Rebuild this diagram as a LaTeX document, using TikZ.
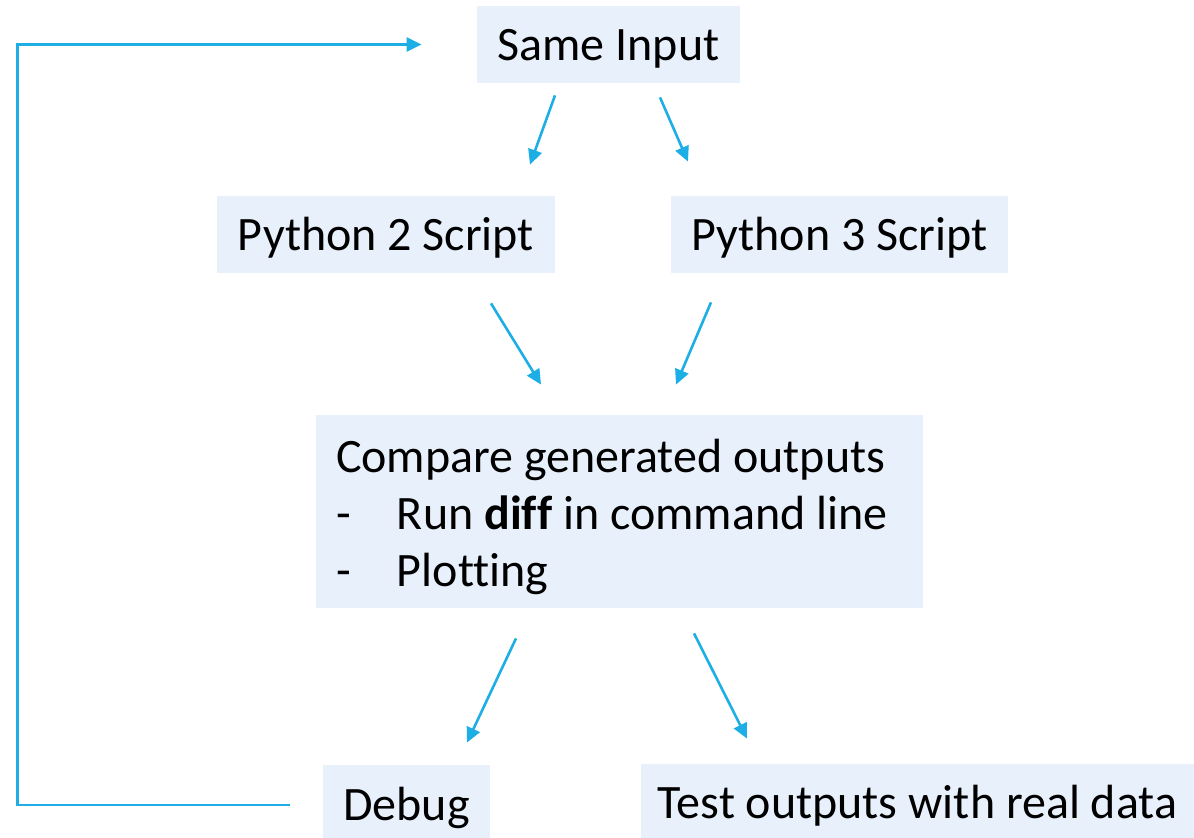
\documentclass[tikz,border=0pt]{standalone}
\usepackage{fontspec}
\setmainfont{Carlito}[Ligatures=NoCommon]
\usetikzlibrary{arrows.meta,calc}
\definecolor{boxfill}{RGB}{232,240,252}
\definecolor{arrowblue}{RGB}{29,174,229}
\tikzset{
  basic/.style  = {fill=boxfill, font=\fontsize{24}{28.5}\selectfont, inner sep=0pt,
                   minimum height=38.5pt, rectangle},
  step box/.style = {basic, align=center, text height=20pt, text depth=4pt},
  list box/.style = {basic, align=flush left, text width=283.5pt, minimum width=303.5pt,
                     minimum height=96.5pt, inner xsep=10pt, inner ysep=2pt},
  flow/.style  = {draw=arrowblue, line width=1.3pt, -{Triangle[length=7.5pt,width=7pt]}}
}
\newcommand{\dashgap}{30.5pt}
\newcommand{\listline}[1]{\mbox{\makebox[\dashgap][l]{-}#1}}

\begin{document}
\begin{tikzpicture}[x=0.5pt, y=-0.5pt]
\useasboundingbox (0,0) rectangle (1194,838);

% top: the shared input
\node[step box, minimum width=131.5pt] (same) at (608.5,44.5) {Same Input};

% the two scripts
\node[step box, minimum width=169pt] (py2) at (386,234.5) {Python 2 Script};
\node[step box, minimum width=168.5pt] (py3) at (839.5,234.5) {Python 3 Script};

% comparison step
\node[list box] (cmp) at (619.5,511.5) {\rule{0pt}{22pt}\mbox{Compare generated outputs}\\
  \listline{Run \textbf{diff} in command line}\\
  \listline{Plotting}};

% outcomes
\node[step box, minimum width=83.5pt] (dbg) at (406.5,804) {Debug};
\node[step box, minimum width=276.5pt] (test) at (917.5,803) {Test outputs with real data};

% arrows between the levels
\draw[flow] ($(same.south)+(-53.5,12)$) -- ($(py2.north)+(144,-31)$);
\draw[flow] ($(same.south)+(51.5,14)$) -- ($(py3.north)+(-151.5,-34)$);
\draw[flow] ($(py2.south)+(105,30)$) -- ($(cmp.north)+(-78.5,-30)$);
\draw[flow] ($(py3.south)+(-128.5,29)$) -- ($(cmp.north)+(56.5,-30)$);
\draw[flow] ($(cmp.south)+(-103.5,30)$) -- ($(dbg.north)+(60.5,-22.5)$);
\draw[flow] ($(cmp.south)+(74.5,25)$) -- ($(test.north)+(-170.5,-25.5)$);

% feedback loop from debug back to the input
\draw[flow] ($(dbg.west)+(-33,1)$) -- ++(-272,0) |- ($(same.west)+(-55,0)$);
\end{tikzpicture}
\end{document}
